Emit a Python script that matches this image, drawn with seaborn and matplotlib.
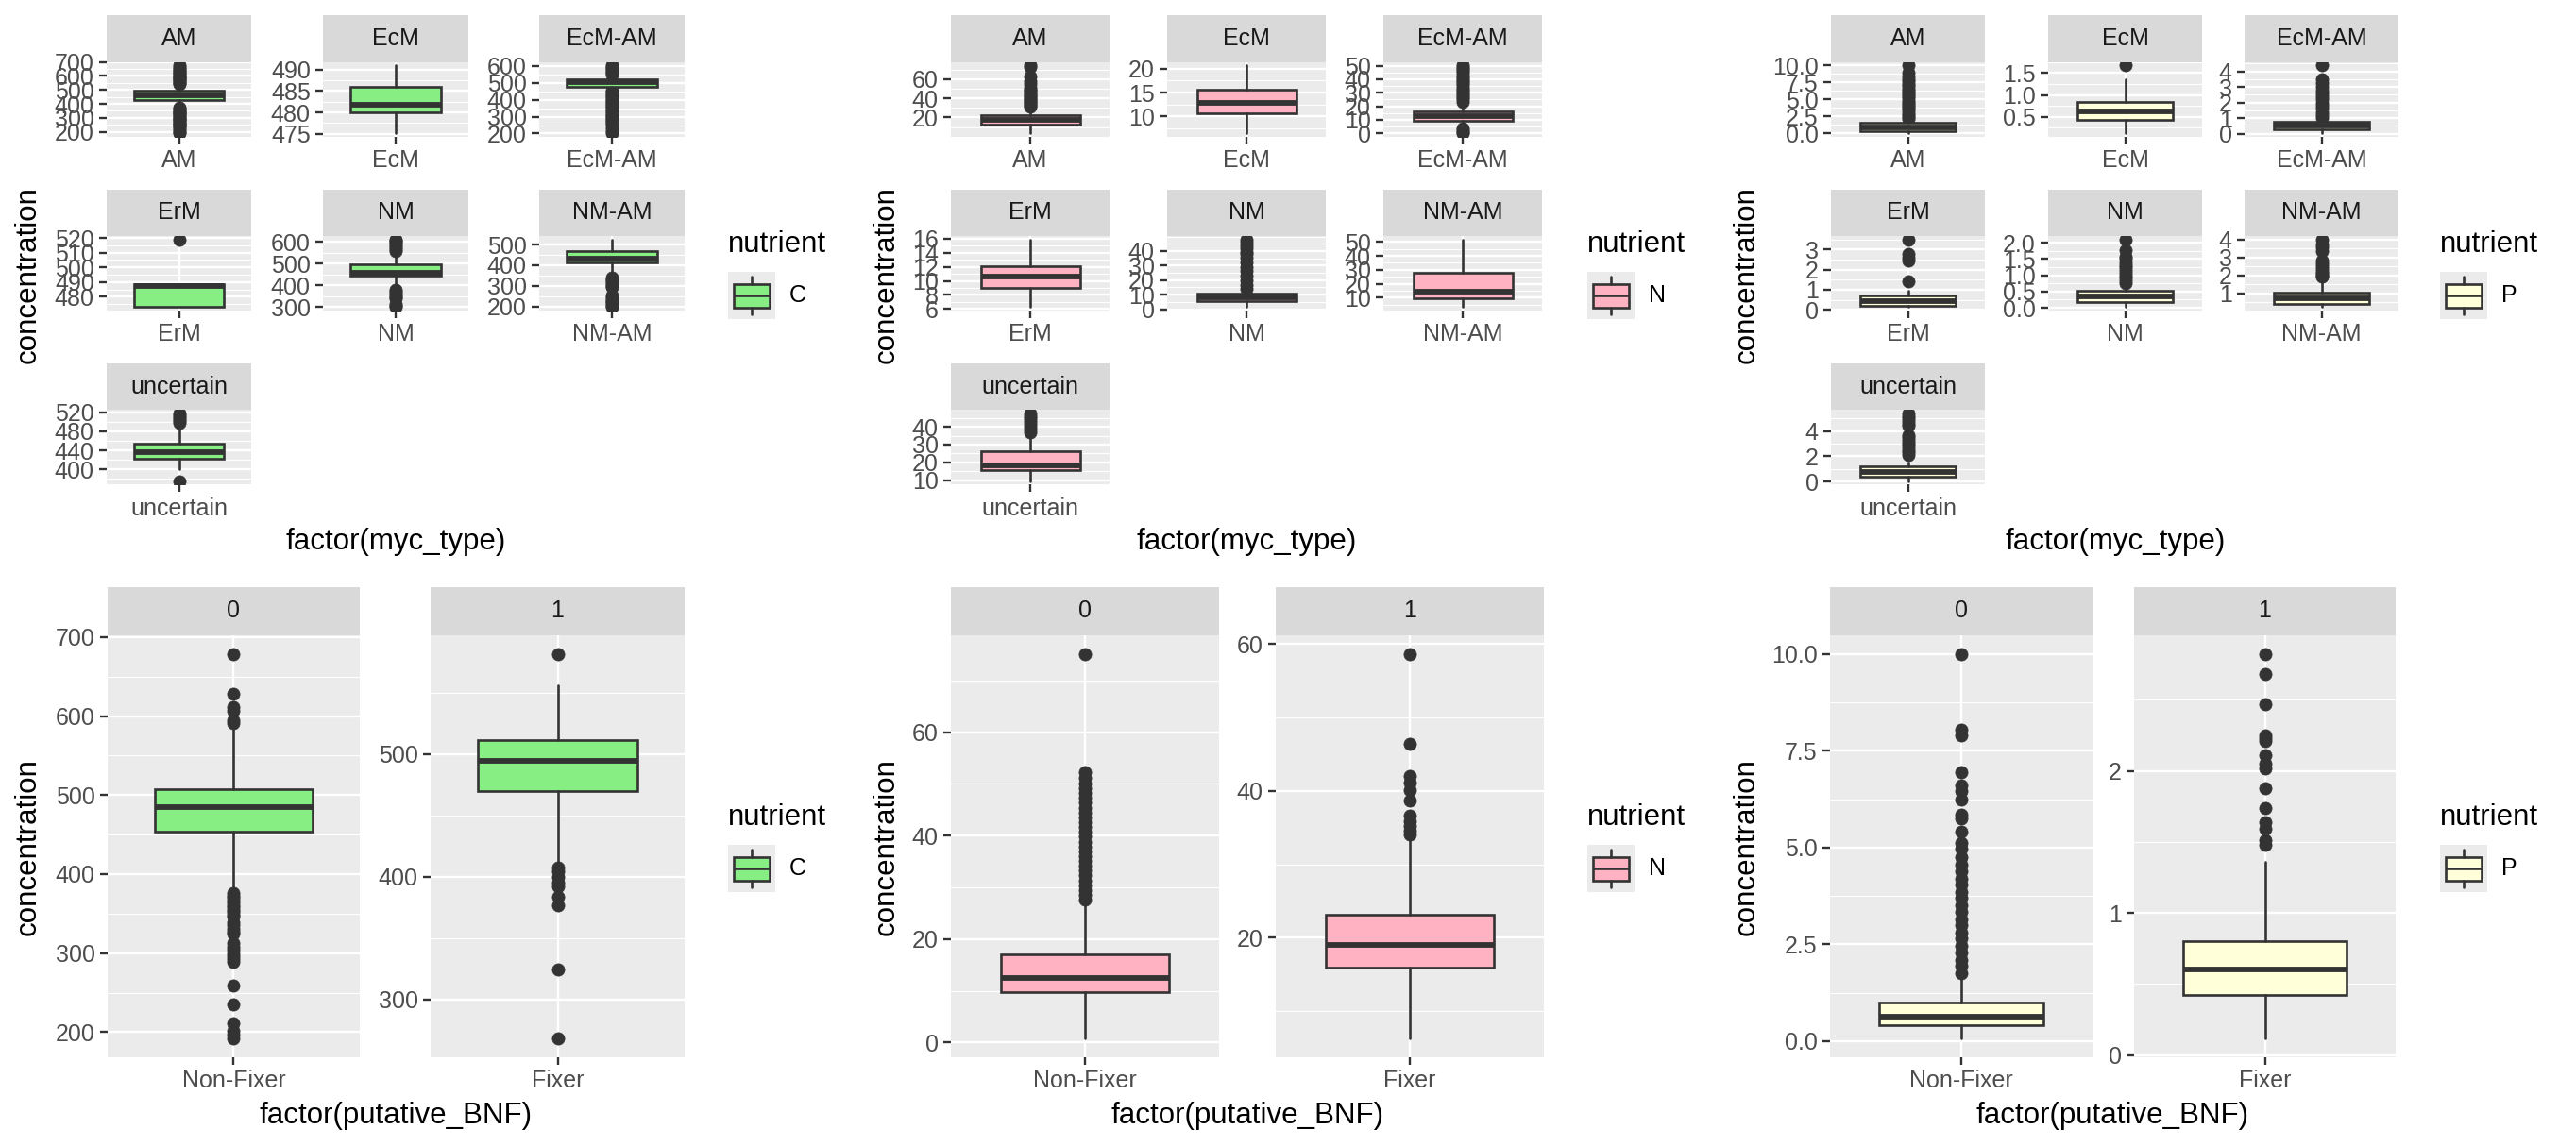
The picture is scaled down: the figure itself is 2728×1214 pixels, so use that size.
import numpy as np
import matplotlib
matplotlib.use("Agg")
import matplotlib.pyplot as plt
from matplotlib.patches import Rectangle
from matplotlib.ticker import AutoMinorLocator
import seaborn as sns

# ===============================
# 1. DATA
# ===============================
myc_types = ["AM", "EcM", "EcM-AM", "ErM", "NM", "NM-AM", "uncertain"]

# --- carbon by mycorrhizal type
c_myc_q1 = [425, 480, 478, 473, 443, 413, 422.7]
c_myc_med = [460, 481.7, 505, 487.5, 457, 431, 435.7]
c_myc_q3 = [492, 486, 522, 488.5, 497, 467, 454.7]
c_myc_lo = [378, 475.2, 462, 473, 385, 348, 401]
c_myc_hi = [535, 491, 545, 488.5, 550, 525, 494]
c_myc_fliers = [
    [541, 549, 557, 566, 573, 581, 590, 597, 605, 613, 621, 629, 641, 652, 665, 676,
     372, 365, 356, 349, 340, 333, 324, 317, 308, 300, 293, 284, 277, 268, 261, 252, 245, 237, 224, 211, 200, 192],
    [],
    [552, 561, 569, 578, 588, 596, 605,
     455, 447, 437, 429, 419, 411, 401, 393, 383, 375, 365, 357, 347, 339, 329, 321, 311, 303, 293, 285, 275,
     267, 257, 249, 228, 214, 203],
    [519],
    [558, 566, 575, 582, 590, 599, 606, 611, 378, 370, 362, 355, 346, 340, 315, 306, 300],
    [340, 332, 325, 316, 309, 300, 293, 252, 244, 236, 227, 220, 212, 204, 197],
    [497, 501, 505, 509, 513, 517, 375],
]
c_myc_ticks = [["200", "300", "400", "500", "600", "700"], ["475", "480", "485", "490"],
               ["200", "300", "400", "500", "600"], ["480", "490", "500", "510", "520"],
               ["300", "400", "500", "600"], ["200", "300", "400", "500"], ["400", "440", "480", "520"]]

# --- nitrogen by mycorrhizal type
n_myc_q1 = [12.5, 10.6, 9.0, 9.05, 5.7, 9.7, 15.6]
n_myc_med = [17.0, 12.8, 12.8, 10.55, 8.3, 14.6, 18.1]
n_myc_q3 = [22.5, 15.6, 16.5, 12.05, 11.0, 27.7, 26.5]
n_myc_lo = [3.7, 6.5, 5.0, 6.25, 1.4, 3.3, 9.4]
n_myc_hi = [29.5, 20.75, 22.0, 15.9, 13.0, 51.8, 36.3]
n_myc_fliers = [
    [31, 32.6, 34, 35.4, 37, 38.6, 40, 41.5, 43, 44.4, 46, 47.6, 49, 50.5, 55, 58, 62.5, 72.5, 74.5],
    [],
    [23.5, 25, 26.6, 28, 29.5, 31, 32.4, 34, 35.6, 37, 38.5, 40, 41.4, 43, 44.6, 46, 47.5, 49, 50.3,
     3.5, 2.2, 1.2, 0.3],
    [],
    [14, 16.8, 20, 23, 26.2, 29, 32, 35.2, 38, 39.6, 42, 44, 46, 48],
    [],
    [37, 38.6, 40, 41.5, 43, 44.6, 46, 47.4],
]
n_myc_ticks = [["0", "20", "40", "60"], ["10", "15", "20"], ["0", "10", "20", "30", "40", "50"],
               ["6", "8", "10", "12", "14", "16"], ["0", "10", "20", "30", "40"],
               ["0", "10", "20", "30", "40", "50"], ["10", "20", "30", "40"]]

# --- phosphorus by mycorrhizal type
p_myc_q1 = [0.38, 0.43, 0.29, 0.18, 0.18, 0.38, 0.37]
p_myc_med = [0.8, 0.615, 0.52, 0.45, 0.36, 0.72, 0.75]
p_myc_q3 = [1.5, 0.84, 0.79, 0.69, 0.52, 1.03, 1.23]
p_myc_lo = [0.05, 0.13, 0.05, 0.13, 0.02, 0.22, 0.02]
p_myc_hi = [1.9, 1.35, 0.95, 0.93, 0.72, 1.8, 1.5]
p_myc_fliers = [
    [2.1, 2.4, 2.7, 3.0, 3.3, 3.6, 3.9, 4.2, 4.5, 4.8, 5.1, 5.4, 5.7, 6.0, 6.3, 6.6, 6.9, 7.2, 7.6, 8.0,
     8.4, 8.9, 10.0],
    [1.68],
    [1.0, 1.2, 1.4, 1.6, 1.8, 2.0, 2.2, 2.4, 2.6, 2.8, 3.0, 3.25, 3.5, 4.4],
    [1.4, 2.45, 2.6, 2.8, 3.5],
    [0.76, 0.84, 0.92, 1.0, 1.08, 1.16, 1.24, 1.32, 1.4, 1.5, 1.57, 1.76, 2.1],
    [1.9, 2.0, 2.1, 2.2, 2.35, 2.5, 2.65, 2.8, 3.35, 3.55, 3.7, 4.0],
    [2.1, 2.3, 2.5, 2.7, 2.9, 3.1, 3.3, 3.5, 3.7, 4.4, 4.6, 4.8, 5.0, 5.2, 5.4],
]
p_myc_ticks = [["0.0", "2.5", "5.0", "7.5", "10.0"], ["0.5", "1.0", "1.5"], ["0", "1", "2", "3", "4"],
               ["0", "1", "2", "3"], ["0.0", "0.5", "1.0", "1.5", "2.0"], ["1", "2", "3", "4"],
               ["0", "2", "4"]]

# --- putative BNF
bnf_levels = ["0", "1"]
bnf_labels = ["Non-Fixer", "Fixer"]

c_bnf_q1 = [453.5, 469.8]
c_bnf_med = [484.3, 494.4]
c_bnf_q3 = [507.9, 511.8]
c_bnf_lo = [377.9, 409.2]
c_bnf_hi = [587.3, 556.3]
c_bnf_fliers = [
    [591, 594.5, 606.6, 611.4, 628.7, 677.9,
     375.5, 373, 370, 367, 364, 361, 358, 355, 352, 349, 346.6, 339.4, 335, 331, 327, 324.9,
     312.9, 308, 304, 300, 296, 292, 288.8, 258.5, 234.9, 210.8, 202.2, 197, 192.5],
    [581.2, 407.6, 404.5, 399.9, 395.2, 392.1, 383.4, 376.5, 324.3, 268.6],
]
c_bnf_ticks = [["200", "300", "400", "500", "600", "700"], ["300", "400", "500"]]

n_bnf_q1 = [9.67, 15.92]
n_bnf_med = [12.55, 19.05]
n_bnf_q3 = [17.0, 23.07]
n_bnf_lo = [0.87, 6.3]
n_bnf_hi = [27.4, 33.5]
n_bnf_fliers = [
    [27.6, 28.5, 29.5, 30.4, 31.3, 32.3, 33.2, 34.2, 35.1, 36.0, 37.0, 37.9, 38.8, 39.8, 40.7, 41.7,
     42.6, 43.5, 44.5, 45.4, 46.4, 47.3, 48.2, 49.2, 50.1, 51.1, 52.3, 75.0],
    [34.0, 34.6, 35.2, 35.9, 36.6, 38.7, 40.1, 41.2, 42.1, 46.4, 58.6],
]
n_bnf_ticks = [["0", "20", "40", "60"], ["20", "40", "60"]]

p_bnf_q1 = [0.405, 0.423]
p_bnf_med = [0.64, 0.606]
p_bnf_q3 = [0.99, 0.805]
p_bnf_lo = [0.08, 0.12]
p_bnf_hi = [1.71, 1.36]
p_bnf_fliers = [
    [1.76, 1.95, 2.1, 2.3, 2.45, 2.65, 2.8, 3.0, 3.15, 3.35, 3.5, 3.7, 3.85, 4.05, 4.2, 4.4, 4.55,
     4.75, 4.97, 5.12, 5.42, 5.76, 5.86, 6.25, 6.45, 6.6, 6.95, 7.89, 8.05, 9.99],
    [1.48, 1.51, 1.59, 1.64, 1.74, 1.88, 2.02, 2.05, 2.11, 2.21, 2.23, 2.25, 2.47, 2.68, 2.82],
]
p_bnf_ticks = [["0.0", "2.5", "5.0", "7.5", "10.0"], ["0", "1", "2"]]

nutrients = ["C", "N", "P"]
fills = ["#86EE82", "#FFB3C2", "#FFFFD9"]

# ===============================
# 2. STYLE
# ===============================
sns.set_theme(style="darkgrid", rc={"axes.facecolor": "#EBEBEB", "grid.color": "white",
                                    "axes.edgecolor": "white"})
plt.rcParams["font.family"] = ["Liberation Sans", "DejaVu Sans"]

EDGE = "#333333"
STRIP_BG = "#D9D9D9"
KEY_BG = "#EBEBEB"
LW = 1.9
MED_LW = 4.2
TICK_FS = 18
TITLE_FS = 22.5

W, H = 2728, 1214
fig = plt.figure(figsize=(W / 100, H / 100), dpi=100)
fig.patch.set_facecolor("white")


def px_axes(x0, y0, x1, y1):
    return fig.add_axes([x0 / W, 1 - y1 / H, (x1 - x0) / W, (y1 - y0) / H])


def hide_frame(ax):
    for s in ax.spines.values():
        s.set_visible(False)


def draw_panel(x0, x1, sy0, sy1, py1, strip_text, stats, ticks, fill):
    strip = px_axes(x0, sy0, x1, sy1)
    strip.set_facecolor(STRIP_BG)
    strip.set_xticks([])
    strip.set_yticks([])
    strip.grid(False)
    hide_frame(strip)
    strip.text(0.5, 0.5, strip_text, transform=strip.transAxes, ha="center", va="center",
               fontsize=TICK_FS, color="#1A1A1A")

    ax = px_axes(x0, sy1, x1, py1)
    ax.bxp([stats], positions=[0], widths=0.75, patch_artist=True, showcaps=False,
           boxprops=dict(facecolor=fill, edgecolor=EDGE, linewidth=LW),
           medianprops=dict(color=EDGE, linewidth=MED_LW, solid_capstyle="butt"),
           whiskerprops=dict(color=EDGE, linewidth=LW),
           flierprops=dict(marker="o", markerfacecolor=EDGE, markeredgecolor=EDGE,
                           markersize=9.5, markeredgewidth=0.5, zorder=1.9))
    vals = [stats["whislo"], stats["whishi"]] + list(stats["fliers"])
    vmin, vmax = min(vals), max(vals)
    pad = 0.05 * (vmax - vmin)
    lo_lim, hi_lim = vmin - pad, vmax + pad
    keep = [t for t in ticks if lo_lim <= float(t) <= hi_lim]
    ax.set_yticks([float(t) for t in keep], keep)
    ax.set_ylim(lo_lim, hi_lim)
    ax.set_xlim(-0.6, 0.6)
    ax.set_xticks([0], [stats["label"]])
    ax.yaxis.set_minor_locator(AutoMinorLocator(2))
    ax.set_axisbelow(True)
    ax.grid(which="major", color="white", linewidth=1.7)
    ax.grid(which="minor", axis="y", color="white", linewidth=0.85)
    ax.grid(which="minor", axis="x", visible=False)
    ax.tick_params(axis="both", which="major", bottom=True, left=True, length=6, width=1.7,
                   color=EDGE, labelcolor="#4D4D4D", labelsize=TICK_FS, pad=3.5)
    ax.tick_params(axis="both", which="minor", length=0)
    hide_frame(ax)
    return ax


def draw_legend(kx, ky, fill, label):
    fig.text(kx / W, 1 - (ky - 21) / H, "nutrient", fontsize=TITLE_FS, ha="left", va="baseline",
             color="black")
    kax = px_axes(kx, ky, kx + 50, ky + 50)
    kax.set_facecolor(KEY_BG)
    kax.set_xlim(0, 1)
    kax.set_ylim(0, 1)
    kax.set_xticks([])
    kax.set_yticks([])
    kax.grid(False)
    hide_frame(kax)
    kax.plot([0.5, 0.5], [0.1, 0.25], color=EDGE, lw=LW)
    kax.plot([0.5, 0.5], [0.75, 0.9], color=EDGE, lw=LW)
    kax.add_patch(Rectangle((0.125, 0.25), 0.75, 0.5, facecolor=fill, edgecolor=EDGE, lw=LW))
    kax.plot([0.125, 0.875], [0.5, 0.5], color=EDGE, lw=LW, solid_capstyle="butt")
    fig.text((kx + 65) / W, 1 - (ky + 25) / H, label, fontsize=TICK_FS, ha="left", va="center",
             color="black")


def stat(q1, med, q3, lo, hi, fl, label):
    return dict(q1=q1, med=med, q3=q3, whislo=lo, whishi=hi, fliers=np.array(fl, dtype=float), label=label)


# ===============================
# 3. TOP ROW: facet by myc_type
# ===============================
myc_data = [
    (c_myc_q1, c_myc_med, c_myc_q3, c_myc_lo, c_myc_hi, c_myc_fliers, c_myc_ticks),
    (n_myc_q1, n_myc_med, n_myc_q3, n_myc_lo, n_myc_hi, n_myc_fliers, n_myc_ticks),
    (p_myc_q1, p_myc_med, p_myc_q3, p_myc_lo, p_myc_hi, p_myc_fliers, p_myc_ticks),
]
top_cols = [[(113, 266), (342, 496), (571, 725)],
            [(1007, 1175), (1236, 1404), (1465, 1633)],
            [(1939, 2102), (2169, 2332), (2377, 2540)]]
strip_tops = [16, 200.5, 385]
ylab_x = [30, 939, 1850]
xlab_x = [419, 1320, 2240]
key_x = [771, 1681, 2584]

for g, (q1, med, q3, lo, hi, fl, ticks) in enumerate(myc_data):
    for i, m in enumerate(myc_types):
        r, c = divmod(i, 3)
        x0, x1 = top_cols[g][c]
        sy0 = strip_tops[r]
        draw_panel(x0, x1, sy0, sy0 + 49.5, sy0 + 128.5, m,
                   stat(q1[i], med[i], q3[i], lo[i], hi[i], fl[i], m), ticks[i], fills[g])
    fig.text(ylab_x[g] / W, 1 - 291 / H, "concentration", rotation=90, ha="center", va="center",
             fontsize=TITLE_FS, color="black")
    fig.text(xlab_x[g] / W, 1 - 574 / H, "factor(myc_type)", ha="center", va="center",
             fontsize=TITLE_FS, color="black")
    draw_legend(key_x[g], 288, fills[g], nutrients[g])

# ===============================
# 4. BOTTOM ROW: facet by putative_BNF
# ===============================
bnf_data = [
    (c_bnf_q1, c_bnf_med, c_bnf_q3, c_bnf_lo, c_bnf_hi, c_bnf_fliers, c_bnf_ticks),
    (n_bnf_q1, n_bnf_med, n_bnf_q3, n_bnf_lo, n_bnf_hi, n_bnf_fliers, n_bnf_ticks),
    (p_bnf_q1, p_bnf_med, p_bnf_q3, p_bnf_lo, p_bnf_hi, p_bnf_fliers, p_bnf_ticks),
]
bot_cols = [[(114, 381), (456, 725)],
            [(1007, 1291), (1351, 1635)],
            [(1938, 2216), (2260, 2537)]]
bot_xlab_x = [419, 1321, 2237]

for g, (q1, med, q3, lo, hi, fl, ticks) in enumerate(bnf_data):
    for i, lev in enumerate(bnf_levels):
        x0, x1 = bot_cols[g][i]
        draw_panel(x0, x1, 622, 673, 1120, lev,
                   stat(q1[i], med[i], q3[i], lo[i], hi[i], fl[i], bnf_labels[i]), ticks[i], fills[g])
    fig.text(ylab_x[g] / W, 1 - 897 / H, "concentration", rotation=90, ha="center", va="center",
             fontsize=TITLE_FS, color="black")
    fig.text(bot_xlab_x[g] / W, 1 - 1182 / H, "factor(putative_BNF)", ha="center", va="center",
             fontsize=TITLE_FS, color="black")
    draw_legend(key_x[g], 895, fills[g], nutrients[g])

fig.savefig("out.png", dpi=100, facecolor="white")
